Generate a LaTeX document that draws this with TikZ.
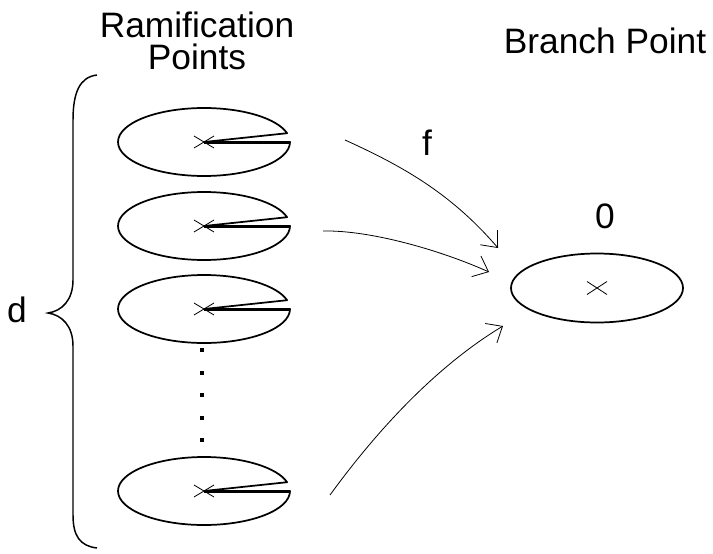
\documentclass[tikz,border=0pt]{standalone}
\usepackage{fontspec}
\setmainfont{Liberation Sans}
\usetikzlibrary{arrows.meta}

% one disc of the cover: an ellipse with a thin slit cut from its centre to the rim
\newcommand\slitdisc[1]{%
  \draw[rim] (#1) -- ++(86,0) arc[start angle=0,end angle=345,x radius=86,y radius=34] -- cycle;
  \draw[slit] (#1) ++(0,1.6) -- ++(85.8,0);
  \draw[xmark] (#1) +(-10,-6) -- +(10,6) (#1) +(-10,6) -- +(10,-6);
}

\begin{document}
\begin{tikzpicture}[x=0.75pt,y=-0.75pt,
  rim/.style={line width=1.3pt, line join=round},
  slit/.style={line width=0.8pt},
  xmark/.style={line width=0.6pt},
  conn/.style={line width=0.6pt, -{Straight Barb[length=10pt,width=17pt,line width=0.6pt]}},
  lbl/.style={inner sep=0pt, anchor=base, font=\fontsize{26.5}{31}\selectfont},
  dotmark/.style={fill=black, inner sep=0pt, minimum size=3.2pt, draw=none}]
\useasboundingbox (0,0) rectangle (713,553);

% labels
\node[lbl] (ram) at (197,37) {Ramification};
\node[lbl] (pts) at (197,69) {Points};
\node[lbl] (bp) at (605,53) {Branch Point};
\node[lbl] (f) at (427,155) {f};
\node[lbl] (zero) at (605,228) {0};
\node[lbl] (d) at (17,322) {d};

% discs upstairs
\coordinate (c1) at (204,142);
\coordinate (c2) at (204,226);
\coordinate (c3) at (204,309);
\coordinate (c4) at (204,491);
\slitdisc{c1}
\slitdisc{c2}
\slitdisc{c3}
\slitdisc{c4}

% vertical ellipsis
\foreach \i/\yy in {1/350,2/373,3/395,4/418,5/440}
  \node[dotmark] (dot\i) at (202,\yy) {};

% disc downstairs
\coordinate (c0) at (597,288);
\draw[rim] (c0) ellipse[x radius=86,y radius=34.5];
\draw[xmark] (c0) +(-10,-6.5) -- +(10,6.5) (c0) +(-10,6.5) -- +(10,-6.5);

% curly brace gathering the d discs
\coordinate (btop) at (97,75);
\coordinate (btip) at (48,313);
\coordinate (bbot) at (97,548);
\draw[line width=1.1pt] (btop) .. controls (80,77) and (73,92) .. (73,120)
  -- (73,280) .. controls (73,300) and (62,311) .. (btip)
  .. controls (62,315) and (73,326) .. (73,346)
  -- (73,515) .. controls (73,536) and (80,546) .. (bbot);

% the map f
\coordinate (s1) at (345,140);
\coordinate (e1) at (498,248);
\coordinate (s2) at (323,231);
\coordinate (e2) at (489,272);
\coordinate (s3) at (330,495);
\coordinate (e3) at (503,326);
\draw[conn] (s1) .. controls (400,165) and (450,192) .. (e1);
\draw[conn] (s2) .. controls (370,230) and (440,250) .. (e2);
\draw[conn] (s3) .. controls (370,440) and (430,370) .. (e3);
\end{tikzpicture}
\end{document}
